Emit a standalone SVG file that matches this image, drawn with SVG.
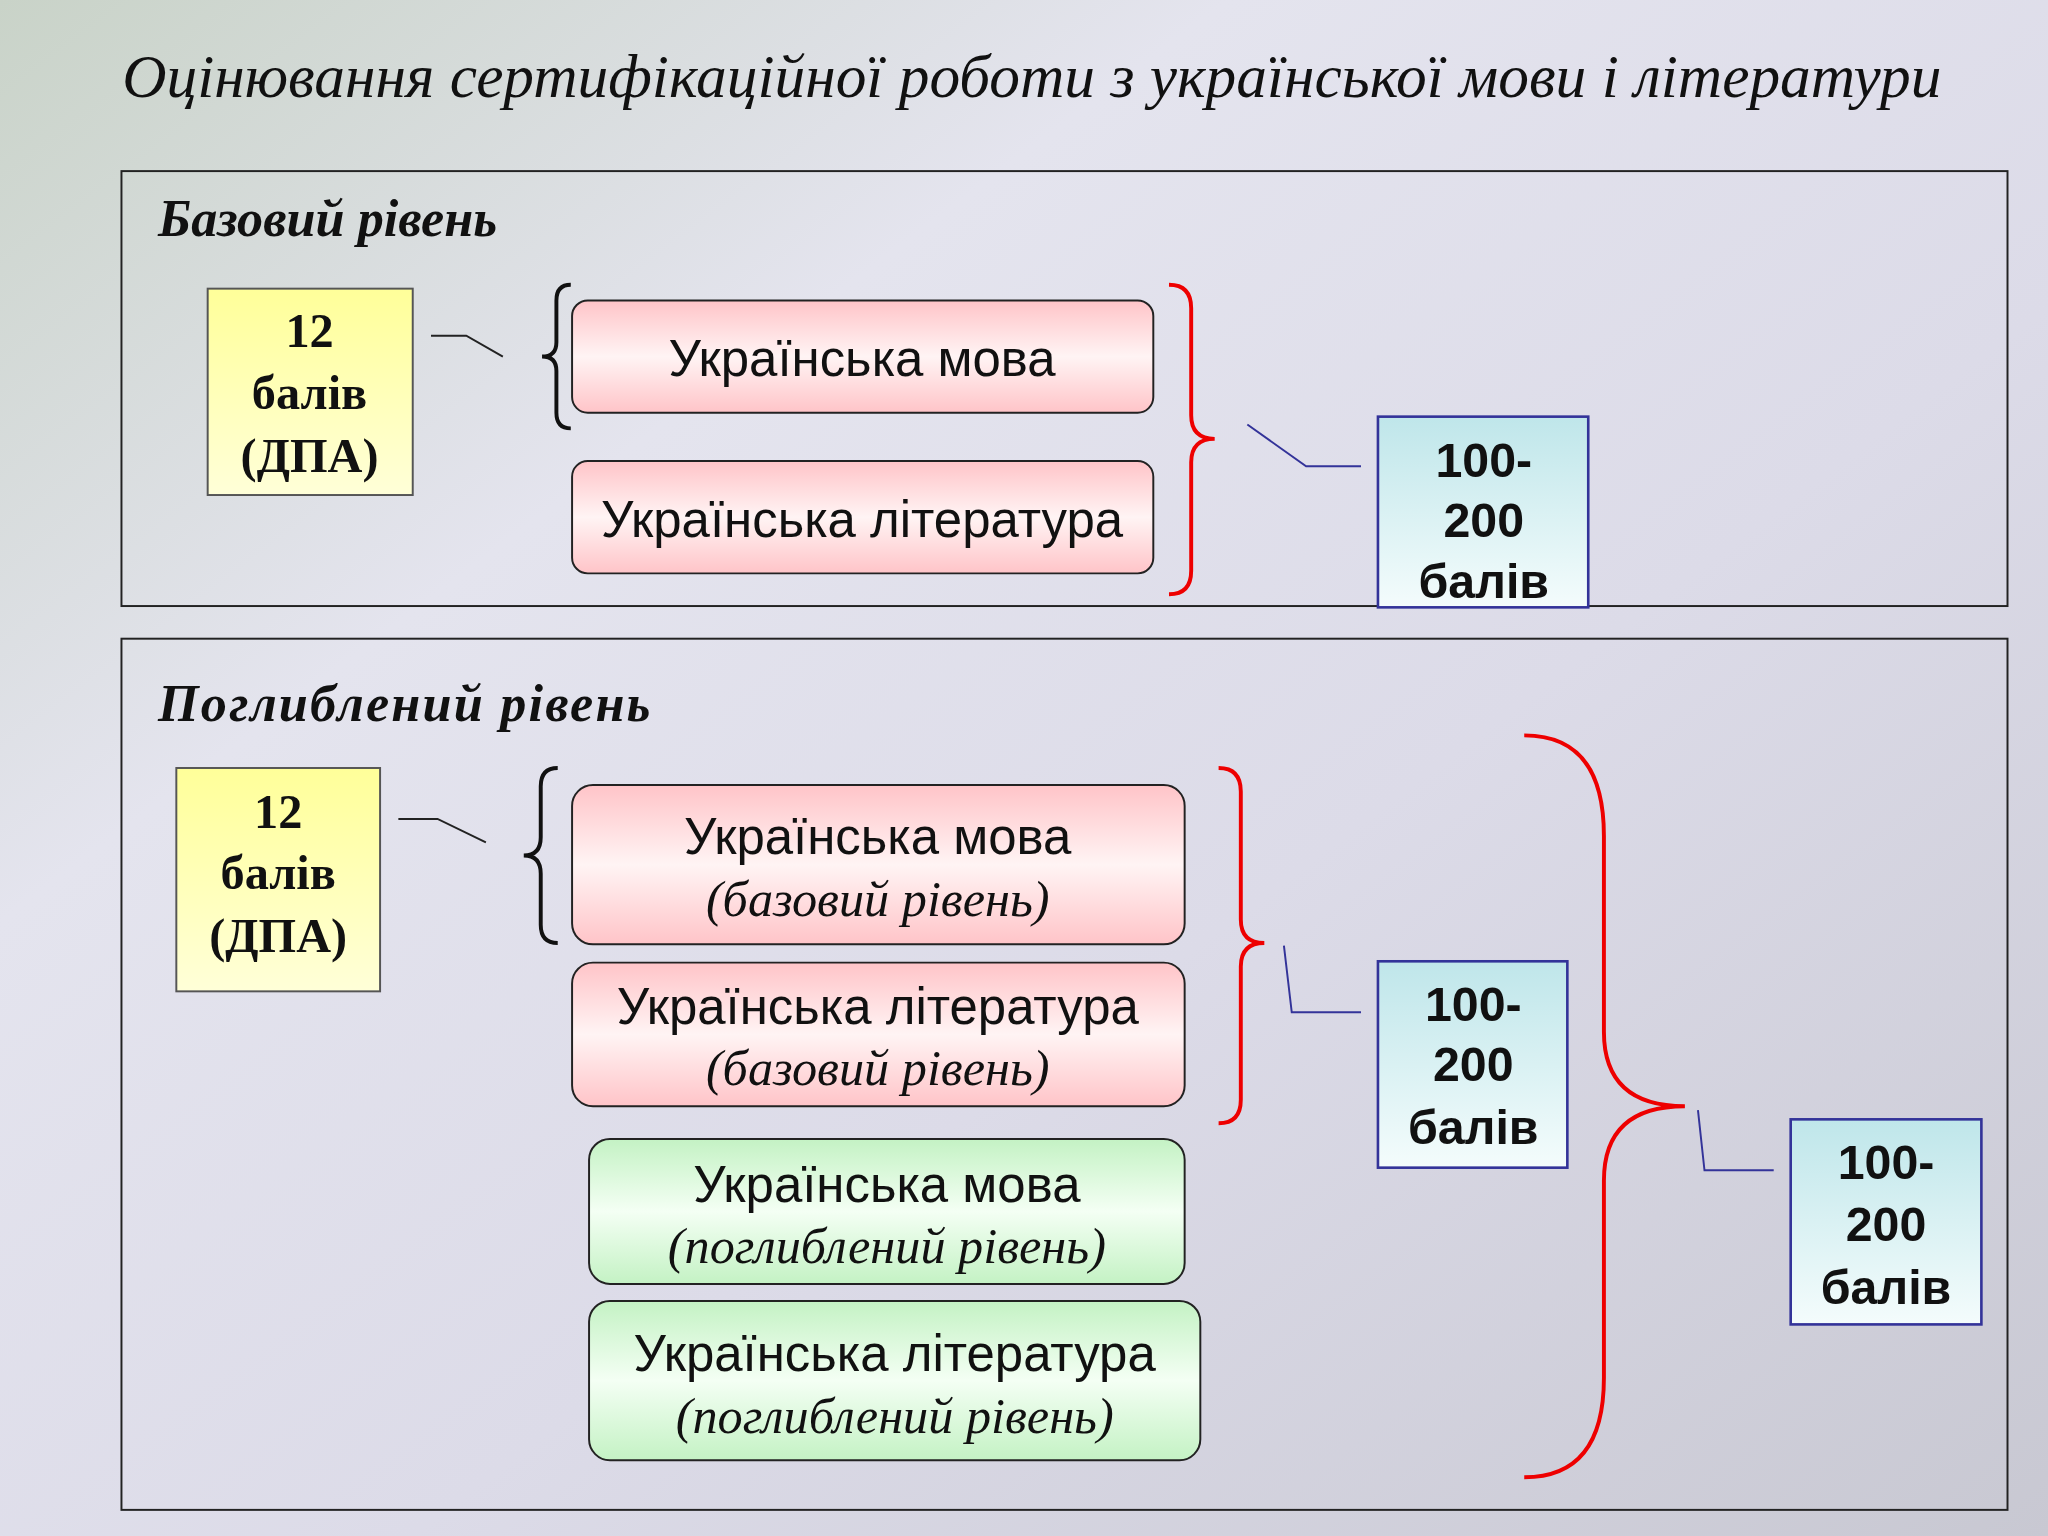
<svg xmlns="http://www.w3.org/2000/svg" width="2048" height="1536" viewBox="0 0 2048 1536">
<defs>
<linearGradient id="bg" x1="0" y1="0" x2="1" y2="1">
<stop offset="0" stop-color="#c9d3c8"/><stop offset="0.3" stop-color="#e4e4ee"/><stop offset="0.6" stop-color="#dcdbe8"/><stop offset="1" stop-color="#c8c8d2"/></linearGradient>
<linearGradient id="pink" x1="0" y1="0" x2="0" y2="1"><stop offset="0" stop-color="#ffc4c8"/><stop offset="0.5" stop-color="#fff4f4"/><stop offset="1" stop-color="#ffc4c8"/></linearGradient>
<linearGradient id="green" x1="0" y1="0" x2="0" y2="1"><stop offset="0" stop-color="#c4f2c4"/><stop offset="0.5" stop-color="#f4fff4"/><stop offset="1" stop-color="#c4f2c4"/></linearGradient>
<linearGradient id="yel" x1="0" y1="0" x2="0" y2="1"><stop offset="0" stop-color="#ffff99"/><stop offset="1" stop-color="#ffffd8"/></linearGradient>
<linearGradient id="cyan" x1="0" y1="0" x2="0" y2="1"><stop offset="0" stop-color="#bfe6ea"/><stop offset="1" stop-color="#f4fcfc"/></linearGradient>
</defs>
<style>
.sec{fill:none;stroke:#222;stroke-width:1.5}
.lab{font-family:"Liberation Serif",serif;font-weight:bold;font-style:italic;font-size:40px;fill:#111}
.yb{fill:url(#yel);stroke:#555;stroke-width:1.5}
.yt{font-family:"Liberation Serif",serif;font-weight:bold;font-size:37px;text-anchor:middle;fill:#111}
.pk{fill:url(#pink);stroke:#222;stroke-width:1.5}
.gr{fill:url(#green);stroke:#222;stroke-width:1.5}
.t{font-family:"Liberation Sans",Arial,sans-serif;font-size:39px;text-anchor:middle;fill:#111}
.ti{font-family:"Liberation Serif",serif;font-style:italic;font-size:38.5px;text-anchor:middle;fill:#111}
.bb{fill:url(#cyan);stroke:#333399;stroke-width:2}
.bt{font-family:"Liberation Sans",Arial,sans-serif;font-weight:bold;font-size:37px;text-anchor:middle;fill:#111}
.ln{fill:none;stroke:#222;stroke-width:1.5}
.lb{fill:none;stroke:#333399;stroke-width:1.5}
.rb{fill:none;stroke:#e00;stroke-width:3}
.kb{fill:none;stroke:#111;stroke-width:3}
</style>
<rect width="2048" height="1536" fill="url(#bg)"/>
<g transform="scale(1.30612)">
<text x="790" y="74" font-family="Liberation Serif,serif" font-style="italic" font-size="47" text-anchor="middle" fill="#111">Оцінювання сертифікаційної роботи з української мови і літератури</text>
<g id="sec1"><rect class="sec" x="93" y="131" width="1444" height="333"/><text class="lab" x="121" y="181">Базовий рівень</text></g>
<g id="sec2"><rect class="sec" x="93" y="489" width="1444" height="667"/><text class="lab" x="121" y="552" textLength="377">Поглиблений рівень</text></g>
<g id="y1"><rect class="yb" x="159" y="221" width="157" height="158"/><text class="yt" x="237" y="266">12</text><text class="yt" x="237" y="313">балів</text><text class="yt" x="237" y="361">(ДПА)</text></g>
<g id="p1"><rect class="pk" x="438" y="230" width="445" height="86" rx="12"/><text class="t" x="660" y="288">Українська мова</text></g>
<g id="p2"><rect class="pk" x="438" y="353" width="445" height="86" rx="12"/><text class="t" x="660" y="411">Українська література</text></g>
<g id="b1"><rect class="bb" x="1055" y="319" width="161" height="146"/><text class="bt" x="1136" y="365">100-</text><text class="bt" x="1136" y="411">200</text><text class="bt" x="1136" y="458">балів</text></g>
<g id="y2"><rect class="yb" x="135" y="588" width="156" height="171"/><text class="yt" x="213" y="634">12</text><text class="yt" x="213" y="681">балів</text><text class="yt" x="213" y="729">(ДПА)</text></g>
<g id="p3"><rect class="pk" x="438" y="601" width="469" height="122" rx="16"/><text class="t" x="672" y="654">Українська мова</text><text class="ti" x="672" y="701">(базовий рівень)</text></g>
<g id="p4"><rect class="pk" x="438" y="737" width="469" height="110" rx="16"/><text class="t" x="672" y="784">Українська література</text><text class="ti" x="672" y="831">(базовий рівень)</text></g>
<g id="g1"><rect class="gr" x="451" y="872" width="456" height="111" rx="16"/><text class="t" x="679" y="920">Українська мова</text><text class="ti" x="679" y="967">(поглиблений рівень)</text></g>
<g id="g2"><rect class="gr" x="451" y="996" width="468" height="122" rx="16"/><text class="t" x="685" y="1050">Українська література</text><text class="ti" x="685" y="1097">(поглиблений рівень)</text></g>
<g id="b2"><rect class="bb" x="1055" y="736" width="145" height="158"/><text class="bt" x="1128" y="782">100-</text><text class="bt" x="1128" y="828">200</text><text class="bt" x="1128" y="876">балів</text></g>
<g id="b3"><rect class="bb" x="1371" y="857" width="146" height="157"/><text class="bt" x="1444" y="903">100-</text><text class="bt" x="1444" y="950">200</text><text class="bt" x="1444" y="998">балів</text></g>
<g id="connectors">
<path class="ln" d="M330 257 H357 L385 273"/>
<path class="kb" d="M437 218 Q426 218 426 230 V262 Q426 273 415 273 Q426 273 426 284 V316 Q426 328 437 328"/>
<path class="rb" d="M895 218 Q912 218 912 236 V318 Q912 336 930 336 Q912 336 912 354 V437 Q912 455 895 455"/>
<path class="lb" d="M955 325 L1000 357 H1042"/>
<path class="ln" d="M305 627 H335 L372 645"/>
<path class="kb" d="M427 588 Q414 588 414 602 V641 Q414 655 401 655 Q414 655 414 669 V708 Q414 722 427 722"/>
<path class="rb" d="M933 588 Q950 588 950 606 V704 Q950 722 968 722 Q950 722 950 740 V842 Q950 860 933 860"/>
<path class="lb" d="M983 724 L989 775 H1042"/>
<path class="rb" d="M1167 563 Q1228 563 1228 640 V790 Q1228 847 1290 847 Q1228 847 1228 904 V1055 Q1228 1131 1167 1131"/>
<path class="lb" d="M1300 850 L1305 896 H1358"/>
</g>
</g>
</svg>
